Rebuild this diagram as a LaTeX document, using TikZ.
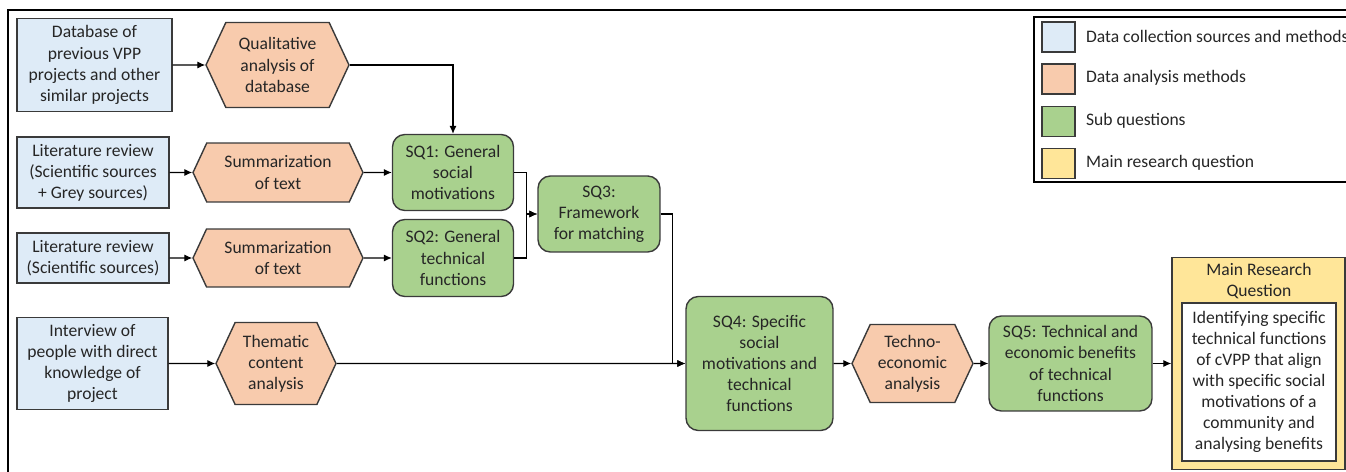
\documentclass[tikz,border=0pt]{standalone}
\usepackage{fontspec}
\setmainfont{Carlito}
\usepackage{tikz}
\usetikzlibrary{arrows.meta,shapes.symbols}
\definecolor{src}{HTML}{DEEBF7}
\definecolor{ana}{HTML}{F8CBAD}
\definecolor{sub}{HTML}{A9D18E}
\definecolor{mrq}{HTML}{FFE699}
\definecolor{edge}{HTML}{3A3A3A}
\definecolor{ink}{HTML}{262626}
\tikzset{
  line/.style={draw=black, line width=0.6pt},
  arr/.style={line, -{Latex[length=4.5pt,width=4pt]}},
  lbl/.style={text=ink, font=\fontsize{10}{12}\selectfont, align=center, inner sep=1pt},
  srcbox/.style={lbl, draw=edge, fill=src, line width=0.8pt},
  anahex/.style={lbl, draw=edge, fill=ana, line width=0.8pt, signal, signal to=east and west, signal pointer angle=130},
  subbox/.style={lbl, draw=edge, fill=sub, line width=0.8pt, rounded corners=7pt},
  mainbox/.style={lbl, draw=edge, fill=mrq, line width=0.8pt},
  swatch/.style={draw=edge, line width=0.8pt, minimum width=0.66cm, minimum height=0.6cm, inner sep=0pt},
  legtext/.style={lbl, anchor=west, align=left}
}
\begin{document}
\begin{tikzpicture}[x=0.02cm, y=-0.02cm]
  \useasboundingbox (0,0) rectangle (1346,472);
  \draw[line] (8,472) -- (8,10) -- (1346,10);

  \node[srcbox, minimum width=3.1cm, minimum height=1.86cm] (db) at (94.5,65) {Database of\\previous VPP\\projects and other\\similar projects};
  \node[srcbox, minimum width=3.04cm, minimum height=1.42cm] (lit1) at (93,172.5) {Literature review\\(Scientific sources\\+ Grey sources)};
  \node[srcbox, minimum width=3.04cm, minimum height=1.0cm] (lit2) at (93,258) {Literature review\\(Scientific sources)};
  \node[srcbox, minimum width=3.02cm, minimum height=1.84cm] (intv) at (92.5,363.5) {Interview of\\people with direct\\knowledge of\\project};

  \node[anahex, minimum width=2.86cm, minimum height=1.7cm] (qual) at (277.5,65) {Qualitative\\analysis of\\database};
  \node[anahex, minimum width=3.4cm, minimum height=1.18cm] (sum1) at (278,172.5) {Summarization\\of text};
  \node[anahex, minimum width=3.4cm, minimum height=1.16cm] (sum2) at (278,258) {Summarization\\of text};
  \node[anahex, minimum width=2.4cm, minimum height=1.64cm] (them) at (276,363.5) {Thematic\\content\\analysis};
  \node[anahex, minimum width=2.42cm, minimum height=1.56cm] (tech) at (912.5,363.5) {Techno-\\economic\\analysis};

  \node[subbox, minimum width=2.42cm, minimum height=1.52cm] (sq1) at (453,172.5) {SQ1: General\\social\\motivations};
  \node[subbox, minimum width=2.42cm, minimum height=1.54cm] (sq2) at (453,258) {SQ2: General\\technical\\functions};
  \node[subbox, minimum width=2.44cm, minimum height=1.52cm] (sq3) at (599,214) {SQ3:\\Framework\\for matching};
  \node[subbox, minimum width=2.94cm, minimum height=2.68cm] (sq4) at (759.5,363.5) {SQ4: Specific\\social\\motivations and\\technical\\functions};
  \node[subbox, minimum width=3.26cm, minimum height=1.9cm] (sq5) at (1070.5,363.5) {SQ5: Technical and\\economic benefits\\of technical\\functions};

  \node[mainbox, minimum width=3.46cm, minimum height=4.24cm] (main) at (1258.5,363.5) {};
  \node[lbl] (maint) at (1259,281) {Main Research\\Question};
  \node[lbl, draw=edge, fill=white, line width=0.8pt, minimum width=3.08cm, minimum height=3.16cm] (mainq) at (1259,382) {Identifying specific\\technical functions\\of cVPP that align\\with specific social\\motivations of a\\community and\\analysing benefits};

  \draw[arr] (db) -- (qual);
  \draw[arr] (qual.east) -| (sq1.north);
  \draw[arr] (lit1) -- (sum1);
  \draw[arr] (sum1) -- (sq1);
  \draw[arr] (lit2) -- (sum2);
  \draw[arr] (sum2) -- (sq2);
  \draw[arr] (sq1.east) -- ++(12,0) |- (sq3.west);
  \draw[arr] (sq2.east) -- ++(12,0) |- (sq3.west);
  \draw[arr] (sq3.east) -- ++(12,0) |- (sq4.west);
  \draw[arr] (intv) -- (them);
  \draw[arr] (them) -- (sq4);
  \draw[arr] (sq4) -- (tech);
  \draw[arr] (tech) -- (sq5);
  \draw[arr] (sq5) -- (main);

  \draw[line, fill=white] (1034,17) rectangle (1350,182);
  \node[swatch, fill=src] (leg1) at (1058.5,37) {};
  \node[swatch, fill=ana] (leg2) at (1058.5,79) {};
  \node[swatch, fill=sub] (leg3) at (1058.5,121.5) {};
  \node[swatch, fill=mrq] (leg4) at (1058.5,163.5) {};
  \node[legtext] (legt1) at (1084,36) {Data collection sources and methods};
  \node[legtext] (legt2) at (1084,78) {Data analysis methods};
  \node[legtext] (legt3) at (1084,120.5) {Sub questions};
  \node[legtext] (legt4) at (1084,162.5) {Main research question};
\end{tikzpicture}
\end{document}
